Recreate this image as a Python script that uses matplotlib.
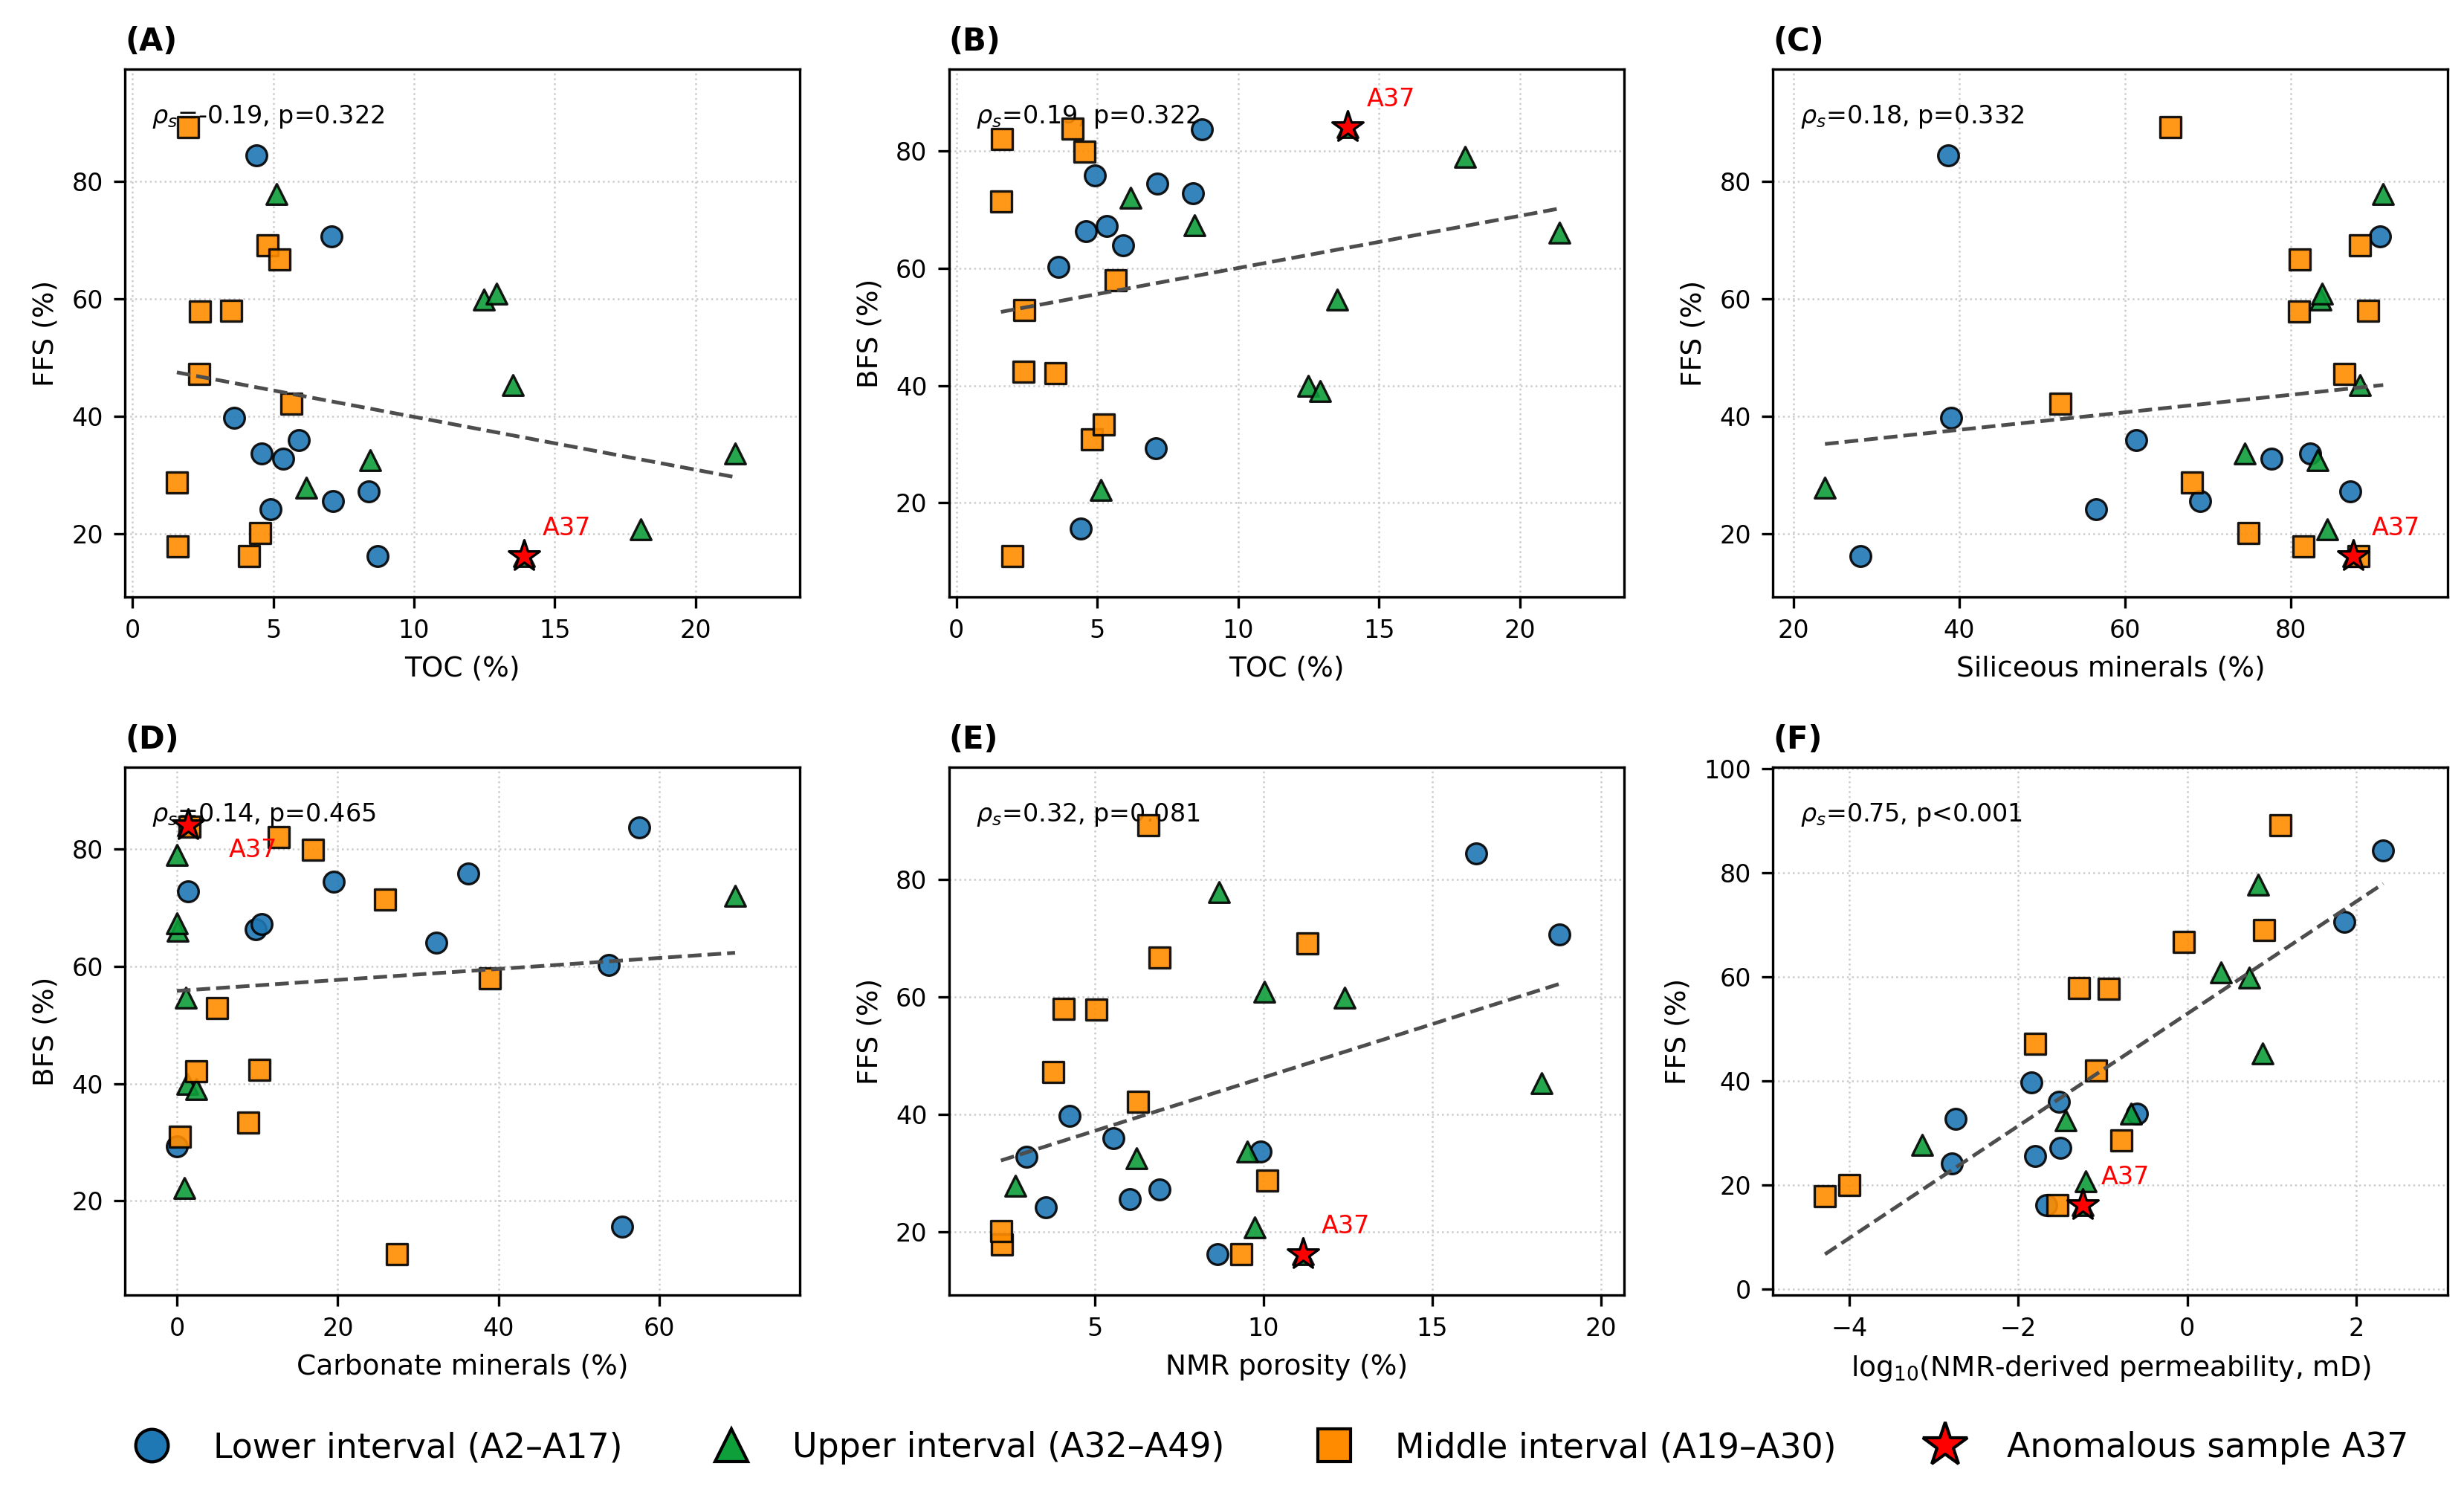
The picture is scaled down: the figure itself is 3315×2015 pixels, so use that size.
import numpy as np
import matplotlib.pyplot as plt
from matplotlib.lines import Line2D
from matplotlib.ticker import MultipleLocator

# lower interval (A2-A17), circles
low_toc = [4.41, 7.07, 3.62, 5.92, 4.59, 5.35, 8.40, 7.13, 4.92, 8.72]
low_ffs = [84.4, 70.6, 39.8, 36.0, 33.7, 32.8, 27.2, 25.6, 24.2, 16.2]
low_bfs = [15.6, 29.3, 60.2, 64.0, 66.3, 67.2, 72.8, 74.4, 75.9, 83.7]
low_sil = [38.7, 90.8, 39.0, 61.4, 82.4, 77.7, 87.2, 69.1, 56.5, 28.1]
low_carb = [55.4, 0.0, 53.7, 32.3, 9.8, 10.5, 1.4, 19.5, 36.2, 57.5]
low_nmr = [16.29, 18.76, 4.25, 5.54, 9.92, 2.97, 6.92, 6.03, 3.55, 8.63]
low_logk = [2.32, 1.86, -1.85, -1.52, -0.60, -2.74, -1.50, -1.80, -2.79, -1.67]

# upper interval (A32-A49), triangles (A37 kept separately)
up_toc = [5.12, 12.48, 12.92, 13.52, 21.4, 8.44, 6.17, 18.05]
up_ffs = [77.8, 59.9, 60.9, 45.3, 33.7, 32.5, 27.8, 20.8]
up_bfs = [22.2, 40.0, 39.1, 54.7, 66.1, 67.3, 72.1, 79.0]
up_sil = [91.2, 83.6, 83.8, 88.4, 74.5, 83.3, 23.8, 84.4]
up_carb = [0.9, 1.3, 2.4, 1.1, 0.1, 0.0, 69.4, 0.0]
up_nmr = [8.67, 12.41, 10.02, 18.23, 9.51, 6.24, 2.63, 9.73]
up_logk = [0.84, 0.73, 0.40, 0.89, -0.67, -1.44, -3.14, -1.20]

# middle interval (A19-A30), squares
mid_toc = [1.99, 4.81, 5.22, 2.40, 3.52, 2.38, 5.65, 1.58, 1.62, 4.55, 4.13]
mid_ffs = [89.2, 69.1, 66.7, 57.8, 57.9, 47.2, 42.1, 28.7, 17.9, 20.1, 16.2]
mid_bfs = [10.9, 30.9, 33.4, 52.9, 42.1, 42.4, 58.0, 71.4, 82.1, 79.9, 83.9]
mid_sil = [65.5, 88.4, 81.1, 81.0, 89.4, 86.5, 52.2, 68.1, 81.6, 74.9, 88.2]
mid_carb = [27.4, 0.4, 8.9, 5.0, 2.4, 10.3, 38.9, 25.9, 12.7, 16.9, 1.6]
mid_nmr = [6.59, 11.3, 6.91, 5.03, 4.07, 3.76, 6.28, 10.1, 2.24, 2.21, 9.33]
mid_logk = [1.10, 0.91, -0.04, -0.93, -1.28, -1.80, -1.08, -0.78, -4.29, -4.00, -1.54]

# anomalous sample A37 (upper interval)
a37 = {'toc': 13.9, 'ffs': 16.2, 'bfs': 84.1, 'sil': 87.6, 'carb': 1.4, 'nmr': 11.17, 'logk': -1.24}

low = {'toc': low_toc, 'ffs': low_ffs, 'bfs': low_bfs, 'sil': low_sil, 'carb': low_carb, 'nmr': low_nmr, 'logk': low_logk}
up = {'toc': up_toc, 'ffs': up_ffs, 'bfs': up_bfs, 'sil': up_sil, 'carb': up_carb, 'nmr': up_nmr, 'logk': up_logk}
mid = {'toc': mid_toc, 'ffs': mid_ffs, 'bfs': mid_bfs, 'sil': mid_sil, 'carb': mid_carb, 'nmr': mid_nmr, 'logk': mid_logk}

# label, x key, y key, x label, y label, stat text, x tick step
panels = [
    ('(A)', 'toc', 'ffs', 'TOC (%)', 'FFS (%)', '-0.19, p=0.322', 5),
    ('(B)', 'toc', 'bfs', 'TOC (%)', 'BFS (%)', '0.19, p=0.322', 5),
    ('(C)', 'sil', 'ffs', 'Siliceous minerals (%)', 'FFS (%)', '0.18, p=0.332', 20),
    ('(D)', 'carb', 'bfs', 'Carbonate minerals (%)', 'BFS (%)', '0.14, p=0.465', 20),
    ('(E)', 'nmr', 'ffs', 'NMR porosity (%)', 'FFS (%)', '0.32, p=0.081', 5),
    ('(F)', 'logk', 'ffs', r'log$_{10}$(NMR-derived permeability, mD)', 'FFS (%)', '0.75, p<0.001', 2),
]

c_low = '#1f77b4'
c_up = '#0e9e3a'
c_mid = '#ff8c00'
c_star = '#ff0000'
msize = 44

fig, axes = plt.subplots(2, 3, figsize=(11.05, 6.7167), dpi=300)
plt.subplots_adjust(left=0.0507, right=0.9935, top=0.9538, bottom=0.1355, wspace=0.221, hspace=0.3225)

for ax, (lab, xk, yk, xlabel, ylabel, stat, xstep) in zip(axes.flat, panels):
    ax.scatter(low[xk], low[yk], s=msize, marker='o', c=c_low, edgecolors='black', linewidths=0.8, alpha=0.9, zorder=3)
    ax.scatter(up[xk] + [a37[xk]], up[yk] + [a37[yk]], s=msize, marker='^', c=c_up, edgecolors='black', linewidths=0.8, alpha=0.9, zorder=3)
    ax.scatter(mid[xk], mid[yk], s=msize, marker='s', c=c_mid, edgecolors='black', linewidths=0.8, alpha=0.9, zorder=3)
    ax.scatter([a37[xk]], [a37[yk]], s=110, marker='*', c=c_star, edgecolors='black', linewidths=0.8, zorder=5)

    if lab == '(D)':
        ax.annotate('A37', (a37[xk], a37[yk]), xytext=(13, -4), textcoords='offset points',
                    ha='left', va='top', color='red', fontsize=8, zorder=6)
    else:
        ax.annotate('A37', (a37[xk], a37[yk]), xytext=(6, 5), textcoords='offset points',
                    ha='left', va='bottom', color='red', fontsize=8, zorder=6)

    x = np.array(low[xk] + up[xk] + mid[xk] + [a37[xk]])
    y = np.array(low[yk] + up[yk] + mid[yk] + [a37[yk]])
    k, b = np.polyfit(x, y, 1)
    xx = np.array([x.min(), x.max()])
    yy = k * xx + b
    ax.plot(xx, yy, '--', color='#4d4d4d', lw=1.2, zorder=4)

    xr = x.max() - x.min()
    ax.set_xlim(x.min() - 0.093 * xr, x.max() + 0.116 * xr)
    ylo = min(y.min(), yy.min())
    yhi = max(y.max(), yy.max())
    yr = yhi - ylo
    ax.set_ylim(ylo - 0.095 * yr, yhi + 0.135 * yr)
    ax.xaxis.set_major_locator(MultipleLocator(xstep))
    ax.yaxis.set_major_locator(MultipleLocator(20))

    ax.text(0.04, 0.935, r'$\rho_s$=' + stat, transform=ax.transAxes, ha='left', va='top', fontsize=8, zorder=2)
    ax.set_title(lab, loc='left', fontweight='bold', fontsize=10)
    ax.set_xlabel(xlabel, fontsize=9)
    ax.set_ylabel(ylabel, fontsize=9)
    ax.tick_params(labelsize=8)
    ax.grid(True, linestyle=':', linewidth=0.6, color='#cccccc')
    ax.set_axisbelow(True)

handles = [
    Line2D([], [], marker='o', ls='', markersize=10.5, markerfacecolor=c_low, markeredgecolor='black', markeredgewidth=1.0),
    Line2D([], [], marker='^', ls='', markersize=10.5, markerfacecolor=c_up, markeredgecolor='black', markeredgewidth=1.0),
    Line2D([], [], marker='s', ls='', markersize=10.5, markerfacecolor=c_mid, markeredgecolor='black', markeredgewidth=1.0),
    Line2D([], [], marker='*', ls='', markersize=15, markerfacecolor=c_star, markeredgecolor='black', markeredgewidth=1.0),
]
labels = ['Lower interval (A2\u2013A17)', 'Upper interval (A32\u2013A49)',
          'Middle interval (A19\u2013A30)', 'Anomalous sample A37']
fig.legend(handles, labels, loc='center', bbox_to_anchor=(0.5126, 0.0333), ncol=4, frameon=False,
           fontsize=11, columnspacing=2.2, handletextpad=0.8)

plt.savefig('out.png', dpi=300)
